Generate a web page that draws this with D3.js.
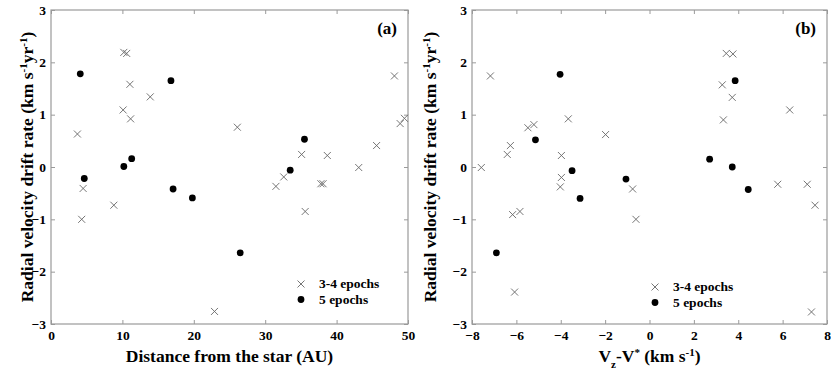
<!DOCTYPE html>
<html>
<head>
<meta charset="utf-8">
<script src="https://cdn.jsdelivr.net/npm/d3@7"></script>
<style>
  body { margin: 0; background: #fff; }
  svg text { font-family: "Liberation Serif", "Times New Roman", serif; font-weight: bold; }
</style>
</head>
<body>
<div id="chart"></div>
<script>
// panel (a): distance from the star (AU)
const distCross = [3.7, 10.2, 10.6, 11.05, 10.1, 11.15, 13.9, 26.1, 35.1, 38.7, 32.6, 31.5, 37.8, 38.1, 43.1, 45.6, 48.1, 48.9, 49.5, 4.5, 4.3, 8.8, 35.6, 22.9];
const rateCrossA = [0.63, 2.19, 2.17, 1.58, 1.09, 0.92, 1.34, 0.76, 0.24, 0.22, -0.19, -0.37, -0.32, -0.32, -0.01, 0.41, 1.74, 0.83, 0.93, -0.41, -1.0, -0.73, -0.85, -2.76];
const distDot = [4.1, 4.66, 10.2, 11.3, 16.8, 17.1, 19.8, 26.5, 33.5, 35.5];
const rateDotA = [1.78, -0.22, 0.01, 0.16, 1.65, -0.42, -0.59, -1.64, -0.06, 0.53];

// panel (b): Vz - V*
const vzCross = [-7.58, -7.17, -6.41, -6.27, -5.48, -5.21, -3.66, -3.97, -3.97, -4.02, -1.98, -0.76, -0.61, -6.17, -5.84, -6.08, 3.46, 3.76, 3.28, 3.73, 3.33, 6.32, 5.78, 7.11, 7.46, 7.30];
const rateCrossB = [-0.01, 1.74, 0.24, 0.41, 0.75, 0.81, 0.92, 0.22, -0.20, -0.38, 0.62, -0.42, -1.0, -0.91, -0.85, -2.39, 2.17, 2.16, 1.57, 1.33, 0.90, 1.09, -0.33, -0.33, -0.73, -2.77];
const vzDot = [-4.03, -5.14, -3.49, -1.06, 2.71, 3.73, 3.86, 4.45, -3.13, -6.90];
const rateDotB = [1.77, 0.52, -0.07, -0.23, 0.15, 0.0, 1.65, -0.43, -0.60, -1.64];

const legendLabels = ["3-4 epochs", "5 epochs"];
const yTicks = [-3, -2, -1, 0, 1, 2, 3];
const xTicksA = [0, 10, 20, 30, 40, 50];
const xTicksB = [-8, -6, -4, -2, 0, 2, 4, 6, 8];

const width = 831, height = 376;
const plotTop = 10, plotBottom = 324;
const frameColor = "#9a9a9a";
const serif = "'Liberation Serif', 'Times New Roman', serif";

const svg = d3.select("#chart").append("svg")
  .attr("width", width)
  .attr("height", height);

const y = d3.scaleLinear().domain([-3, 3]).range([plotBottom, plotTop]);

const panels = [
  { tag: "(a)", x: d3.scaleLinear().domain([0, 50]).range([51, 408]), ticks: xTicksA,
    cx: distCross, cy: rateCrossA, dx: distDot, dy: rateDotA,
    legend: [301, 284], ylabX: 33, xlab: "a" },
  { tag: "(b)", x: d3.scaleLinear().domain([-8, 8]).range([472, 827]), ticks: xTicksB,
    cx: vzCross, cy: rateCrossB, dx: vzDot, dy: rateDotB,
    legend: [655, 287], ylabX: 436, xlab: "b" }
];

const styleLabels = a => a.selectAll("text")
  .attr("fill", "#000")
  .style("font-family", serif)
  .style("font-weight", "bold")
  .style("font-size", "13.5px");

panels.forEach(p => {
  const [x0, x1] = p.x.range();
  const g = svg.append("g");

  // bottom axis with labels, ticks pointing inward
  g.append("g")
    .attr("transform", `translate(0,${plotBottom})`)
    .call(d3.axisBottom(p.x).tickValues(p.ticks).tickSize(-4).tickPadding(6).tickFormat(d3.format("d")))
    .call(a => a.select(".domain").remove())
    .call(a => a.selectAll("line").attr("stroke", frameColor))
    .call(styleLabels);

  g.append("g")
    .attr("transform", `translate(0,${plotTop})`)
    .call(d3.axisTop(p.x).tickValues(p.ticks).tickSize(-4).tickFormat(""))
    .call(a => a.select(".domain").remove())
    .call(a => a.selectAll("line").attr("stroke", frameColor));

  g.append("g")
    .attr("transform", `translate(${x0},0)`)
    .call(d3.axisLeft(y).tickValues(yTicks).tickSize(-4).tickPadding(5).tickFormat(d3.format("d")))
    .call(a => a.select(".domain").remove())
    .call(a => a.selectAll("line").attr("stroke", frameColor))
    .call(styleLabels);

  g.append("g")
    .attr("transform", `translate(${x1},0)`)
    .call(d3.axisRight(y).tickValues(yTicks).tickSize(-4).tickFormat(""))
    .call(a => a.select(".domain").remove())
    .call(a => a.selectAll("line").attr("stroke", frameColor));

  g.append("rect")
    .attr("x", x0).attr("y", plotTop)
    .attr("width", x1 - x0).attr("height", plotBottom - plotTop)
    .attr("fill", "none")
    .attr("stroke", frameColor)
    .attr("stroke-width", 1.2);

  // crosses
  const s = 3.5;
  g.selectAll(".cross")
    .data(d3.zip(p.cx, p.cy))
    .enter().append("path")
    .attr("class", "cross")
    .attr("d", d => {
      const px = p.x(d[0]), py = y(d[1]);
      return `M${px - s},${py - s}L${px + s},${py + s}M${px - s},${py + s}L${px + s},${py - s}`;
    })
    .attr("stroke", "#666")
    .attr("stroke-width", 0.9)
    .attr("fill", "none");

  // dots
  g.selectAll(".dot")
    .data(d3.zip(p.dx, p.dy))
    .enter().append("circle")
    .attr("class", "dot")
    .attr("cx", d => p.x(d[0]))
    .attr("cy", d => y(d[1]))
    .attr("r", 3.4)
    .attr("fill", "#000");

  // panel tag
  g.append("text")
    .attr("x", x1 - 11).attr("y", 34)
    .attr("text-anchor", "end")
    .style("font-size", "17px")
    .text(p.tag);

  // legend
  const [lx, ly] = p.legend;
  g.append("path")
    .attr("d", `M${lx - s},${ly - s}L${lx + s},${ly + s}M${lx - s},${ly + s}L${lx + s},${ly - s}`)
    .attr("stroke", "#666").attr("stroke-width", 0.9);
  g.append("circle").attr("cx", lx).attr("cy", ly + 15.5).attr("r", 3.4).attr("fill", "#000");
  legendLabels.forEach((t, i) => {
    g.append("text")
      .attr("x", lx + 18).attr("y", ly + 4 + i * 15.5)
      .style("font-size", "13.5px")
      .text(t);
  });

  // y label
  const yl = g.append("text")
    .attr("transform", `translate(${p.ylabX},${(plotTop + plotBottom) / 2}) rotate(-90)`)
    .attr("text-anchor", "middle")
    .style("font-size", "17.5px");
  yl.append("tspan").text("Radial velocity drift rate (km s");
  yl.append("tspan").attr("dy", -6).style("font-size", "11px").text("-1");
  yl.append("tspan").attr("dy", 6).text("yr");
  yl.append("tspan").attr("dy", -6).style("font-size", "11px").text("-1");
  yl.append("tspan").attr("dy", 6).text(")");

  // x label
  const xl = g.append("text")
    .attr("x", (x0 + x1) / 2).attr("y", 362)
    .attr("text-anchor", "middle")
    .style("font-size", "17.5px");
  if (p.xlab === "a") {
    xl.text("Distance from the star (AU)");
  } else {
    xl.append("tspan").text("V");
    xl.append("tspan").attr("dy", 6).style("font-size", "11px").text("z");
    xl.append("tspan").attr("dy", -6).text("-V");
    xl.append("tspan").attr("dy", -6).style("font-size", "11px").text("*");
    xl.append("tspan").attr("dy", 6).text(" (km s");
    xl.append("tspan").attr("dy", -6).style("font-size", "11px").text("-1");
    xl.append("tspan").attr("dy", 6).text(")");
  }
});
</script>
</body>
</html>
